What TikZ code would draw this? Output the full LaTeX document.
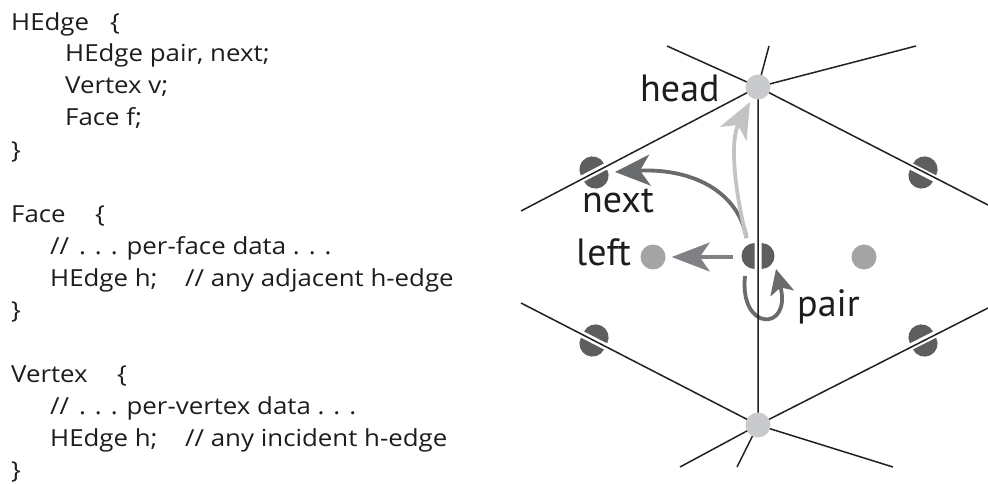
\documentclass[tikz,border=0pt]{standalone}
\usepackage{fontspec}
\setmainfont{Open Sans}
\newfontfamily\codefont[FakeStretch=1.1]{Open Sans}
\newfontfamily\labelfont{PT Sans}
\usetikzlibrary{arrows.meta,calc}

\definecolor{ink}{HTML}{1E1C1D}
\definecolor{edgeink}{HTML}{231F20}
\definecolor{hedark}{HTML}{5D5E60}
\definecolor{facegray}{HTML}{A3A4A6}
\definecolor{vertgray}{HTML}{C9CACC}
\definecolor{leftgray}{HTML}{808184}
\definecolor{nextgray}{HTML}{6A6B6D}
\definecolor{headgray}{HTML}{C2C3C5}

\tikzset{
  code/.style={anchor=base west, inner sep=0pt, text=ink,
    font=\codefont\fontsize{23.5}{23.5}\selectfont},
  lbl/.style={anchor=base west, inner sep=0pt, text=ink,
    font=\labelfont\fontsize{38}{38}\selectfont},
  meshedge/.style={draw=edgeink, line width=1.5pt},
  vertexdot/.style={circle, fill=vertgray, minimum size=25pt, inner sep=0pt},
  facedot/.style={circle, fill=facegray, minimum size=25pt, inner sep=0pt},
  ptr/.style={line width=3.8pt},
  % a half-edge marker: two half discs pulled apart on either side of an edge
  hepair/.pic={
    \fill[hedark] (13,3.5) arc[start angle=0, end angle=180, radius=13] -- cycle;
    \fill[hedark] (-13,-3.5) arc[start angle=180, end angle=360, radius=13] -- cycle;
  },
}

\begin{document}
\begin{tikzpicture}[x=1pt,y=-1pt]
\useasboundingbox (0,0) rectangle (988,484);

% ---------- record declarations ----------
\node[code] (hedge)  at (11,31)  {HEdge};
\node[code] (hedgeb) at (110,31) {\{};
\node[code] (hpair)  at (65,62)  {HEdge pair, next;};
\node[code] (hvert)  at (65,94)  {Vertex v;};
\node[code] (hface)  at (65,126) {Face f;};
\node[code] (hend)   at (11,158) {\}};

\node[code] (face)   at (11,222) {Face};
\node[code] (faceb)  at (95,222) {\{};
\node[code] (fdata)  at (50,254) {//\hspace{10pt}. . . per-face data . . .};
\node[code] (fh)     at (50,286) {HEdge h;};
\node[code] (fhc)    at (185,286) {// any adjacent h-edge};
\node[code] (fend)   at (11,318) {\}};

\node[code] (vert)   at (11,382) {Vertex};
\node[code] (vertb)  at (117,382) {\{};
\node[code] (vdata)  at (50,414) {//\hspace{10pt}. . . per-vertex data . . .};
\node[code] (vh)     at (50,446) {HEdge h;};
\node[code] (vhc)    at (185,446) {// any incident h-edge};
\node[code] (vend)   at (11,478) {\}};

% ---------- mesh ----------
\coordinate (head) at (758,87);
\coordinate (foot) at (758,425);
\coordinate (ul) at (667,46);
\coordinate (ut) at (769,46);
\coordinate (ur) at (916,46);
\coordinate (ml) at (521,211);
\coordinate (mr) at (988,205);
\coordinate (bl) at (521,303);
\coordinate (br) at (988,308);
\coordinate (dl) at (680,467);
\coordinate (dt) at (737,467);
\coordinate (dr) at (893,467);

% half-edge markers, split by their edges
\pic[rotate=27.6]  (pUL) at (594,172.5) {hepair};
\pic[rotate=-27.2] (pUR) at (923,172.5) {hepair};
\pic[rotate=-27.2] (pBL) at (594,340.5) {hepair};
\pic[rotate=27]    (pBR) at (923,340.5) {hepair};
\pic[rotate=90]    (pC)  at (758,256)   {hepair};

% face points
\node[facedot] (fleft)  at (653,257) {};
\node[facedot] (fright) at (864,257) {};

% pointer arrows
\coordinate (cstart) at (746.5,238);
\coordinate (cleft) at (733,257);
\draw[ptr, draw=nextgray, -{Stealth[length=35pt, width=31pt, inset=10pt]}]
  (cstart) .. controls (738,190) and (690,168) .. (615,172);
\draw[ptr, draw=headgray, -{Stealth[length=36pt, width=30pt, inset=10pt]}]
  (cstart) .. controls (734,188) and (730,140) .. (750,102);
\draw[ptr, draw=leftgray, -{Stealth[length=38pt, width=29pt, inset=10pt]}]
  (cleft) -- ($(fleft.east)+(6,0)$);
\draw[ptr, draw=nextgray, -{Stealth[length=25pt, width=24pt, inset=6pt]}]
  (745,276) .. controls (739,332) and (792,332) .. (776,269);

% mesh edges
\draw[meshedge] (ul) -- (head) -- (ml);
\draw[meshedge] (ut) -- (head) -- (ur);
\draw[meshedge] (mr) -- (head) -- (foot);
\draw[meshedge] (bl) -- (foot) -- (br);
\draw[meshedge] (dl) -- (foot) -- (dt);
\draw[meshedge] (dr) -- (foot);

% vertices
\node[vertexdot] (vhead) at (head) {};
\node[vertexdot] (vfoot) at (foot) {};

% labels
\node[lbl] (tHead) at (640,102) {head};
\node[lbl] (tNext) at (582,212) {next};
\node[lbl] (tLeft) at (576,265) {left};
\node[lbl] (tPair) at (797,316) {pair};
\end{tikzpicture}
\end{document}
